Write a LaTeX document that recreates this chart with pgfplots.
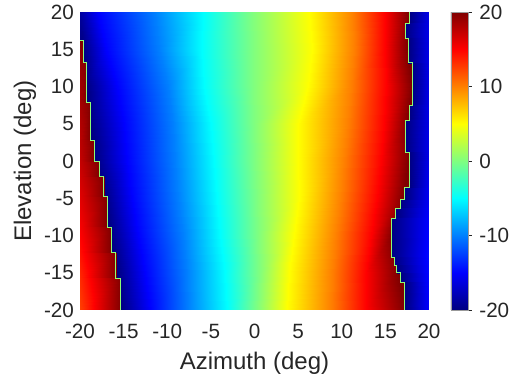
\documentclass[border=0pt]{standalone}
\usepackage{pgfplots}
\pgfplotsset{compat=1.18}
\usepackage{fontspec}
\setmainfont{Liberation Sans}
\definecolor{mtext}{rgb}{0.15,0.15,0.15}
\definecolor{edgecol}{rgb}{0.55,1,0.45}
\begin{document}
\begin{tikzpicture}
\path[use as bounding box] (-60pt,-53.25pt) rectangle (324pt,232.5pt);
\begin{axis}[
  at={(0,0)}, anchor=south west,
  scale only axis, width=261.75pt, height=223.5pt,
  xmin=-20, xmax=20, ymin=-20, ymax=20,
  clip=true,
  colormap/jet,
  point meta min=-20, point meta max=20,
  xtick={-20,-15,...,20}, ytick={-20,-15,...,20},
  axis line style={draw=none},
  major tick length=0pt,
  /pgf/number format/assume math mode=true,
  tick label style={font=\fontsize{15.5}{16}\selectfont, text=mtext},
  xticklabel style={yshift=-7pt},
  yticklabel style={xshift=-1pt},
  xlabel={Azimuth (deg)}, ylabel={Elevation (deg)},
  label style={font=\fontsize{18}{20}\selectfont, text=mtext},
  xlabel style={at={(axis description cs:0.5,-0.2013)}, anchor=base},
  ylabel style={at={(axis description cs:-0.1576,0.5)}, anchor=center},
  colorbar,
  colorbar shift/.style={xshift=16.5pt},
  colorbar style={
    at={(parent axis.north east)}, anchor=north west,
    scale only axis, width=12.75pt, height=223.5pt,
    ytick={-20,-10,0,10,20},
    axis line style={draw=gray!80, line width=0.6pt},
    ytick pos=right, tick align=outside,
    major tick length=3pt,
    ytick style={draw=mtext, line width=0.6pt},
    /pgf/number format/assume math mode=true,
    yticklabel style={font=\fontsize{15.5}{16}\selectfont, text=mtext, xshift=2pt},
  },
]
% middle (unwrapped) field: iso-value positions per elevation row
\addplot[surf, shader=interp, mesh/cols=11, point meta=explicit] table[x=x, y=y, meta=v] {
x y v
-20 20 -18.8
-20 20 -18.8
-17.9 20 -15
-11.4 20 -10
-5.9 20 -5
-0.3 20 0
6.2 20 5
11.3 20 10
15.0 20 15
17.6 20 20
20 20 20
-20 15 -20
-19.6 15 -20
-17.0 15 -15
-10.9 15 -10
-6.0 15 -5
-0.2 15 0
6.6 15 5
11.4 15 10
15.0 15 15
17.5 15 20
20 15 20
-20 10 -20
-19.3 10 -20
-15.8 10 -15
-9.9 10 -10
-5.8 10 -5
-0.2 10 0
6.1 10 5
11.1 10 10
15.1 10 15
18.0 10 20
20 10 20
-20 5 -20
-18.8 5 -20
-14.9 5 -15
-9.3 5 -10
-5.0 5 -5
-0.1 5 0
5.0 5 5
10.7 5 10
14.8 5 15
17.5 5 20
20 5 20
-20 0 -20
-18.3 0 -20
-14.6 0 -15
-9.1 0 -10
-4.6 0 -5
0.1 0 0
5.0 0 5
10.3 0 10
14.5 0 15
17.6 0 20
20 0 20
-20 -5 -20
-17.2 -5 -20
-14.0 -5 -15
-8.8 -5 -10
-4.3 -5 -5
0.3 -5 0
5.1 -5 5
9.9 -5 10
14.0 -5 15
17.0 -5 20
20 -5 20
-20 -10 -20
-16.6 -10 -20
-13.4 -10 -15
-8.2 -10 -10
-4.0 -10 -5
0.4 -10 0
4.5 -10 5
9.3 -10 10
13.3 -10 15
15.8 -10 20
20 -10 20
-20 -15 -20
-15.8 -15 -20
-12.5 -15 -15
-7.7 -15 -10
-3.4 -15 -5
0.5 -15 0
4.0 -15 5
8.9 -15 10
12.8 -15 15
16.4 -15 20
20 -15 20
-20 -20 -20
-15.3 -20 -20
-12.0 -20 -15
-7.6 -20 -10
-3.1 -20 -5
0.3 -20 0
3.7 -20 5
8.8 -20 10
12.8 -20 15
17.2 -20 20
20 -20 20
};
% left wrapped strip (stepped boundary)
\addplot[surf, shader=interp, mesh/cols=2, point meta=explicit] table[x=x, y=y, meta=v] {
x y v
-20 16.2 20
-19.6 16.2 20
-20 13.3 19.1
-19.6 13.3 20
-20 13.3 19.1
-19.3 13.3 20
-20 7.9 18.5
-19.3 7.9 20
-20 7.9 18.5
-18.85 7.9 20
-20 2.8 17.7
-18.85 2.8 20
-20 2.8 17.7
-18.4 2.8 20
-20 -0.1 17.3
-18.4 -0.1 20
-20 -0.1 17.3
-17.8 -0.1 20
-20 -2.1 16.8
-17.8 -2.1 20
-20 -2.1 16.8
-17.3 -2.1 20
-20 -4.8 16.2
-17.3 -4.8 20
-20 -4.8 16.2
-16.9 -4.8 20
-20 -8.9 15.3
-16.9 -8.9 20
-20 -8.9 15.3
-16.4 -8.9 20
-20 -12.3 14.4
-16.4 -12.3 20
-20 -12.3 14.4
-15.9 -12.3 20
-20 -15.7 13.4
-15.9 -15.7 20
-20 -15.7 13.4
-15.35 -15.7 20
-20 -20 12.5
-15.35 -20 20
};
% right wrapped strip (stepped boundary)
\addplot[surf, shader=interp, mesh/cols=2, point meta=explicit] table[x=x, y=y, meta=v] {
x y v
17.75 20 -20
20 20 -15.8
17.75 18.5 -20
20 18.5 -15.8
17.25 18.5 -20
20 18.5 -15.8
17.25 16.5 -20
20 16.5 -15.8
17.6 16.5 -20
20 16.5 -15.8
17.6 13.2 -20
20 13.2 -15.8
18.1 13.2 -20
20 13.2 -15.8
18.1 7.5 -20
20 7.5 -15.8
17.75 7.5 -20
20 7.5 -15.8
17.75 5.5 -20
20 5.5 -15.8
17.25 5.5 -20
20 5.5 -15.8
17.25 1.2 -20
20 1.2 -15.8
17.75 1.2 -20
20 1.2 -15.8
17.75 -3.6 -20
20 -3.6 -15.4
17.2 -3.6 -20
20 -3.6 -15.4
17.2 -5.2 -20
20 -5.2 -15.3
16.7 -5.2 -20
20 -5.2 -15.3
16.7 -6.3 -20
20 -6.3 -15.1
16.2 -6.3 -20
20 -6.3 -15.1
16.2 -7.7 -20
20 -7.7 -14.9
15.7 -7.7 -20
20 -7.7 -14.9
15.7 -12.9 -20
20 -12.9 -14.5
16.0 -12.9 -20
20 -12.9 -14.5
16.0 -14 -20
20 -14 -14.6
16.3 -14 -20
20 -14 -14.6
16.3 -15 -20
20 -15 -14.6
16.75 -15 -20
20 -15 -14.6
16.75 -16.3 -20
20 -16.3 -14.7
17.2 -16.3 -20
20 -16.3 -14.7
17.2 -20 -20
20 -20 -15
};
% thin transition lines along the wrap boundaries
\addplot[edgecol, line width=0.6pt, line join=miter] coordinates {
(-20,16.2) (-19.6,16.2) (-19.6,13.3) (-19.3,13.3) (-19.3,7.9) (-18.85,7.9)
(-18.85,2.8) (-18.4,2.8) (-18.4,-0.1) (-17.8,-0.1) (-17.8,-2.1) (-17.3,-2.1)
(-17.3,-4.8) (-16.9,-4.8) (-16.9,-8.9) (-16.4,-8.9) (-16.4,-12.3) (-15.9,-12.3)
(-15.9,-15.7) (-15.35,-15.7) (-15.35,-20)
};
\addplot[edgecol, line width=0.6pt, line join=miter] coordinates {
(17.75,20) (17.75,18.5) (17.25,18.5) (17.25,16.5) (17.6,16.5) (17.6,13.2)
(18.1,13.2) (18.1,7.5) (17.75,7.5) (17.75,5.5) (17.25,5.5) (17.25,1.2)
(17.75,1.2) (17.75,-3.6) (17.2,-3.6) (17.2,-5.2) (16.7,-5.2) (16.7,-6.3)
(16.2,-6.3) (16.2,-7.7) (15.7,-7.7) (15.7,-12.9) (16.0,-12.9) (16.0,-14)
(16.3,-14) (16.3,-15) (16.75,-15) (16.75,-16.3) (17.2,-16.3) (17.2,-20)
};
\end{axis}
\end{tikzpicture}
\end{document}
